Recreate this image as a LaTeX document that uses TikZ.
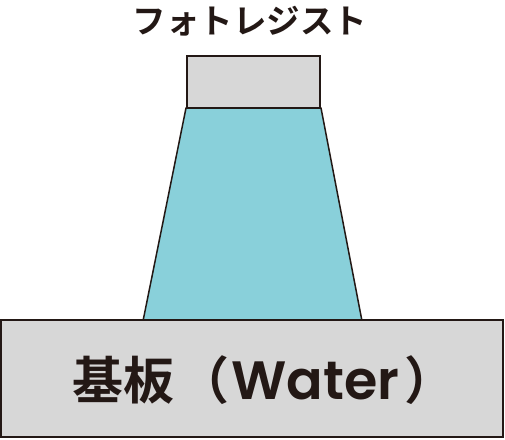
\documentclass[tikz,border=0pt]{standalone}
\usepackage{fontspec}
\newfontfamily\jpfont{Noto Sans CJK JP Bold}
\newfontfamily\latfont{Poppins SemiBold}
\definecolor{inkc}{HTML}{231815}
\definecolor{resistc}{HTML}{D7D7D7}
\definecolor{cyanc}{HTML}{89D0DA}
\tikzset{
  outline/.style={draw=inkc, line width=1.5pt, line join=miter},
  lbl/.style={text=inkc, inner sep=0pt, font=\jpfont},
}
\begin{document}
\begin{tikzpicture}[x=1pt,y=-1pt]
\useasboundingbox (0,0) rectangle (505,439);
% pattern (trapezoid)
\filldraw[outline, fill=cyanc] (143,321) -- (186,108) -- (321,108) -- (362,321) -- cycle;
% photoresist top
\filldraw[outline, fill=resistc] (187,56) rectangle (320,108);
% substrate
\filldraw[outline, fill=resistc] (1,320) rectangle (503,437);
\node[lbl, font=\jpfont\fontsize{33.5}{33.5}\selectfont] (title) at (250,21) {フォトレジスト};
\node[lbl, anchor=west, font=\jpfont\fontsize{51}{51}\selectfont] (sub) at (72,380) {基板\kern4pt（\kern2pt{\latfont\fontsize{54}{54}\selectfont Water}\kern5pt）};
\end{tikzpicture}
\end{document}
